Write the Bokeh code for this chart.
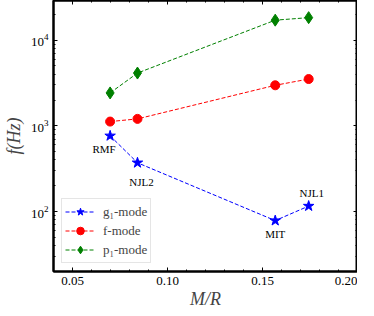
from bokeh.plotting import figure
from bokeh.models import (ColumnDataSource, LinearAxis, LogAxis, SingleIntervalTicker,
                          LogTicker, NumeralTickFormatter, Legend, LegendItem, Range1d,
                          CustomJSTickFormatter)
from bokeh.core.properties import value
from bokeh.embed import file_html
from bokeh.resources import INLINE

# data
eos = ["RMF", "NJL2", "MIT", "NJL1"]
compactness = [0.0698, 0.0842, 0.1567, 0.1743]
g1_mode = [765, 371, 78.5, 116]
f_mode = [1122, 1206, 2974, 3517]
p1_mode = [2422, 4130, 17100, 18300]

SERIF = "Liberation Serif"

p = figure(frame_width=304, frame_height=271, y_axis_type="log",
           x_range=Range1d(0.04, 0.20), y_range=Range1d(20, 29000),
           output_backend="svg", toolbar_location=None,
           min_border_left=44, min_border_right=0, min_border_top=0, min_border_bottom=0)
p.grid.visible = False
p.outline_line_color = "black"
p.outline_line_width = 2
p.background_fill_color = "white"
p.border_fill_color = "white"

xt = SingleIntervalTicker(interval=0.05, num_minor_ticks=5)
yt = LogTicker(num_minor_ticks=10)

def style_axis(ax):
    ax.major_tick_in = 4
    ax.major_tick_out = 0
    ax.minor_tick_in = 2
    ax.minor_tick_out = 0
    ax.axis_line_color = "black"
    ax.axis_line_width = 2
    ax.major_tick_line_color = "black"
    ax.minor_tick_line_color = "black"
    ax.major_label_text_font = SERIF
    ax.major_label_text_font_size = "13px"
    ax.major_label_text_color = "black"
    ax.major_label_standoff = 5

xa = p.xaxis[0]
xa.ticker = xt
xa.formatter = NumeralTickFormatter(format="0.00")
style_axis(xa)
xa.axis_label = "M/R"
xa.axis_label_text_font = SERIF
xa.axis_label_text_font_style = "italic"
xa.axis_label_text_font_size = "18px"
xa.axis_label_standoff = 1

ya = p.yaxis[0]
ya.ticker = yt
style_axis(ya)
ya.axis_label = "f(Hz)"
ya.axis_label_text_font = SERIF
ya.axis_label_text_font_style = "italic"
ya.axis_label_text_font_size = "18px"
ya.axis_label_standoff = 4

blank = CustomJSTickFormatter(code="return ''")
top = LinearAxis(ticker=xt, formatter=blank)
style_axis(top)
top.major_label_standoff = 0
p.add_layout(top, "above")
right = LogAxis(ticker=yt, formatter=blank)
style_axis(right)
right.major_label_standoff = 0
p.add_layout(right, "right")

src = ColumnDataSource(dict(x=compactness, g=g1_mode, f=f_mode, pp=p1_mode, name=eos))

dash = "4 2"
lg = p.line("x", "g", source=src, color="blue", line_dash=dash, line_width=1)
sg = p.scatter("x", "g", source=src, marker="star", size=11, color="blue")
lf = p.line("x", "f", source=src, color="red", line_dash=dash, line_width=1)
sf = p.scatter("x", "f", source=src, marker="circle", size=9, color="red")
lp = p.line("x", "pp", source=src, color="green", line_dash=dash, line_width=1)
sp = p.scatter("x", "pp", source=src, marker="diamond", size=12, color="green")

label_dx = [-6, 4, 0, 3]
label_dy = [13, 19, 13, -13]
lsrc = ColumnDataSource(dict(x=compactness, y=g1_mode, name=eos, dx=label_dx, dy=label_dy))
p.text("x", "y", text="name", source=lsrc, x_offset="dx", y_offset="dy",
       text_font=value(SERIF), text_font_size="11px", text_align="center",
       text_baseline="middle", text_color="black")

legend = Legend(items=[
    LegendItem(label="g₁-mode", renderers=[lg, sg]),
    LegendItem(label="f-mode", renderers=[lf, sf]),
    LegendItem(label="p₁-mode", renderers=[lp, sp]),
], location="bottom_left")
legend.label_text_font = SERIF
legend.label_text_font_size = "13px"
legend.border_line_color = "#cccccc"
legend.border_line_width = 1
legend.background_fill_alpha = 0.8
legend.margin = 8
legend.padding = 3
legend.spacing = 0
legend.glyph_width = 30
legend.glyph_height = 19
legend.label_standoff = 8
p.add_layout(legend)

open("out.html", "w").write(file_html(p, INLINE))
